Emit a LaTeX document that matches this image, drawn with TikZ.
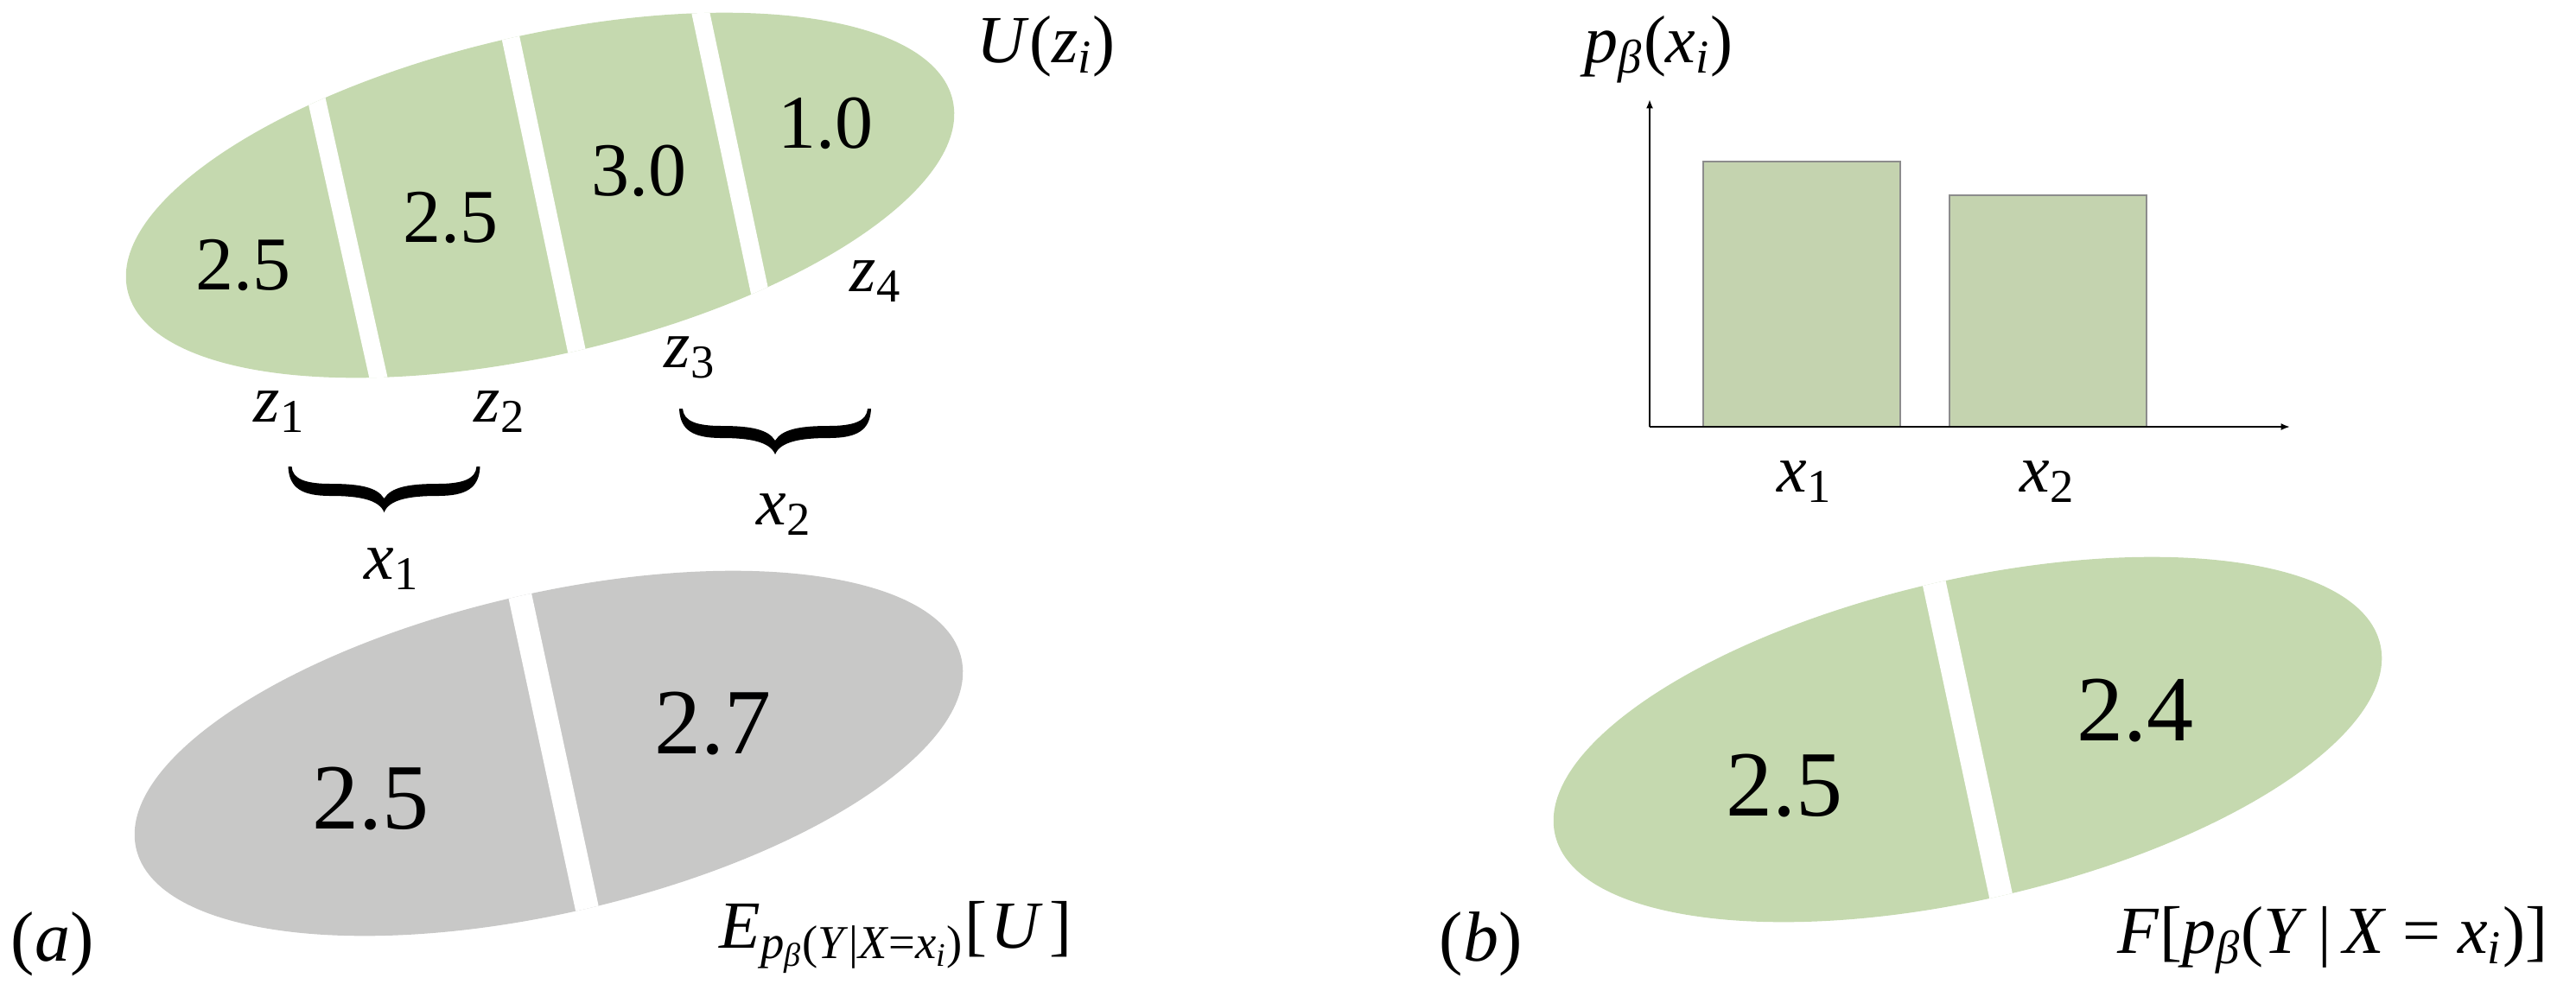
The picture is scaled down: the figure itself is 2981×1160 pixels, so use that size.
\documentclass[tikz,border=0pt]{standalone}
\usepackage{fontspec}
\setmainfont{Liberation Serif}
\usetikzlibrary{arrows.meta}
\definecolor{ellg}{RGB}{197,217,175}
\definecolor{barg}{RGB}{196,211,175}
\definecolor{ellgray}{RGB}{200,200,199}
\newcommand\myi[1]{\textit{#1}}
\newcommand\mysub[1]{\textsubscript{#1}}
\tikzset{
  lbl/.style={inner sep=0pt, anchor=base west, font=\fontsize{19.5}{23}\selectfont},
  parlbl/.style={lbl, font=\fontsize{20.5}{24}\selectfont},
  num/.style={inner sep=0pt, font=\fontsize{22}{26}\selectfont},
  bignum/.style={inner sep=0pt, font=\fontsize{27}{32}\selectfont},
  cutline/.style={white, line width=5.2pt},
  bigcut/.style={white, line width=6.8pt},
  ax/.style={line width=0.45pt, -{Latex[length=2.6pt,width=2pt]}},
  barbox/.style={fill=barg, draw=black!45, line width=0.3pt},
  ubrace/.pic={
    \fill[black] (-111,0) .. controls (-110,-25) and (-95,-34) .. (-62,-34)
      .. controls (-30,-34) and (-6,-38) .. (0,-53)
      .. controls (6,-38) and (30,-34) .. (62,-34)
      .. controls (95,-34) and (110,-25) .. (111,0)
      -- (107,0)
      .. controls (106,-14) and (92,-20) .. (62,-20)
      .. controls (28,-20) and (8,-24) .. (0,-37)
      .. controls (-8,-24) and (-28,-20) .. (-62,-20)
      .. controls (-92,-20) and (-106,-14) .. (-107,0) -- cycle;
  }
}
\begin{document}
\begin{tikzpicture}[x=0.25pt,y=0.25pt]
\useasboundingbox (0,0) rectangle (2981,-1160);

% ---------- top ellipse U(z_i) ----------
\fill[ellg, rotate around={13:(625,-226)}] (625,-226) ellipse [x radius=122.5pt, y radius=46.25pt];
\begin{scope}
  \clip[rotate around={13:(625,-226)}] (625,-226) ellipse [x radius=122.5pt, y radius=46.25pt];
  \draw[cutline] (363,-100) -- (443,-460);
  \draw[cutline] (587,-25) -- (672,-428);
  \draw[cutline] (806,8) -- (883,-356);
\end{scope}
\node[num] (t1) at (281,-307) {2.5};
\node[num] (t2) at (521,-252) {2.5};
\node[num] (t3) at (739,-198) {3.0};
\node[num] (t4) at (955,-143) {1.0};

\node[lbl] (U) at (1130,-72) {\myi{U}(\myi{z}\mysub{\myi{i}})};
\node[lbl] (z4) at (983,-337) {\myi{z}\mysub{4}};
\node[lbl] (z3) at (768,-425) {\myi{z}\mysub{3}};
\node[lbl] (z1) at (293,-488) {\myi{z}\mysub{1}};
\node[lbl] (z2) at (548,-488) {\myi{z}\mysub{2}};

% ---------- braces ----------
\pic (brA) at (444.5,-540) {ubrace};
\pic (brB) at (897,-473) {ubrace};
\node[lbl] (x1) at (421,-670) {\myi{x}\mysub{1}};
\node[lbl] (x2) at (875,-607) {\myi{x}\mysub{2}};

% ---------- bottom-left gray ellipse ----------
\fill[ellgray, rotate around={13:(635,-872)}] (635,-872) ellipse [x radius=122.5pt, y radius=46.25pt];
\begin{scope}
  \clip[rotate around={13:(635,-872)}] (635,-872) ellipse [x radius=122.5pt, y radius=46.25pt];
  \draw[bigcut] (598,-672) -- (684,-1073);
\end{scope}
\node[bignum] (g1) at (429,-924) {2.5};
\node[bignum] (g2) at (825,-837) {2.7};
\node[parlbl] (la) at (12,-1112) {(\myi{a})};
\node[lbl] (EU) at (832,-1097) {\myi{E}\mysub{\myi{p}\mysub{\myi{β}}(\myi{Y}|\myi{X}=\myi{x}\mysub{\myi{i}})}[\kern1pt\myi{U}\kern2pt]};

% ---------- bar chart ----------
\coordinate (O) at (1909,-494);
\coordinate (Ytop) at (1909,-115);
\coordinate (Xend) at (2650,-494);
\draw[barbox] (1971,-494) rectangle (2199,-187);
\draw[barbox] (2256,-494) rectangle (2484,-226);
\draw[ax] (O) -- (Ytop);
\draw[ax] (O) -- (Xend);
\node[lbl] (px) at (1833,-72) {\myi{p}\mysub{\myi{β}}(\myi{x}\mysub{\myi{i}})};
\node[lbl] (cx1) at (2056,-569) {\myi{x}\mysub{1}};
\node[lbl] (cx2) at (2337,-569) {\myi{x}\mysub{2}};

% ---------- bottom-right green ellipse ----------
\fill[ellg, rotate around={13:(2277,-856)}] (2277,-856) ellipse [x radius=122.5pt, y radius=46.25pt];
\begin{scope}
  \clip[rotate around={13:(2277,-856)}] (2277,-856) ellipse [x radius=122.5pt, y radius=46.25pt];
  \draw[bigcut] (2234,-655) -- (2320,-1058);
\end{scope}
\node[bignum] (r1) at (2065,-909) {2.5};
\node[bignum] (r2) at (2471,-822) {2.4};
\node[parlbl] (lb) at (1665,-1112) {(\myi{b})};
\node[lbl] (FP) at (2450,-1103) {\myi{F}[\myi{p}\mysub{\myi{β}}(\myi{Y}\,|\,\myi{X} = \myi{x}\mysub{\myi{i}})]};
\end{tikzpicture}
\end{document}
